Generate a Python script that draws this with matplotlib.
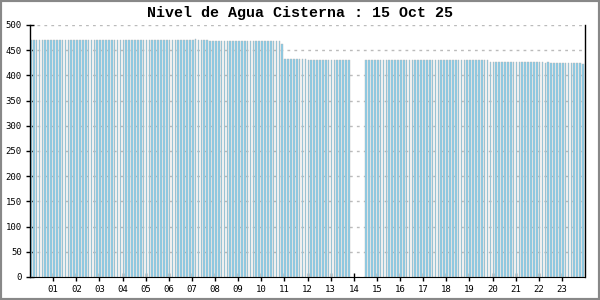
import numpy as np
import matplotlib
matplotlib.use('Agg')
import matplotlib.pyplot as plt

title = 'Nivel de Agua Cisterna : 15 Oct 25'

# readings every 7.5 minutes, one row per hour (nan = no reading)
nan = float('nan')
level_by_hour = [
    [470, 470, 470, 470, 470, 470, 470, 470],  # 00
    [470, 470, 470, 470, 470, 470, 470, 470],  # 01
    [470, 470, 470, 470, 470, 470, 470, 470],  # 02
    [470, 470, 470, 470, 470, 470, 470, 470],  # 03
    [470, 470, 470, 470, 470, 470, 470, 470],  # 04
    [470, 470, 470, 470, 470, 470, 470, 470],  # 05
    [470, 470, 470, 470, 471, 471, 470, 470],  # 06
    [470, 472, 470, 470, 470, 470, 468, 468],  # 07
    [468, 468, 468, 468, 468, 468, 468, 468],  # 08
    [468, 468, 468, 468, 468, 468, 468, 468],  # 09
    [468, 468, 468, 468, 468, 468, 468, 462],  # 10
    [432, 432, 432, 432, 432, 432, 432, 432],  # 11
    [430, 430, 430, 430, 430, 430, 430, 430],  # 12
    [430, 430, 430, 430, 430, 430, 430, nan],  # 13
    [nan, nan, nan, nan, 430, 430, 430, 430],  # 14
    [430, 430, 430, 430, 430, 430, 430, 430],  # 15
    [430, 430, 430, 430, 430, 430, 430, 430],  # 16
    [430, 430, 430, 430, 430, 430, 430, 430],  # 17
    [430, 430, 430, 430, 430, 430, 430, 430],  # 18
    [430, 430, 430, 430, 430, 430, 430, 427],  # 19
    [427, 427, 427, 427, 427, 427, 427, 427],  # 20
    [427, 427, 427, 426, 427, 426, 427, 426],  # 21
    [426, 426, 425, 426, 425, 425, 424, 425],  # 22
    [424, 425, 424, 425, 424, 424, 425, 423],  # 23
]
hour_labels = ['%02d' % h for h in range(1, 24)]

levels = np.array(level_by_hour, dtype=float).ravel()
times = np.arange(len(levels)) / 8.0

fig = plt.figure(figsize=(6, 3), dpi=100)
ax = fig.add_axes([0.05, 0.0767, 0.925, 0.84])

ok = ~np.isnan(levels)
ax.bar(times[ok], levels[ok], width=0.072, align='edge',
       color='#87CEEB', edgecolor='#B4B4B4', linewidth=0.3)

ax.set_xlim(0, 24)
ax.set_ylim(0, 500)
ax.set_yticks(range(0, 501, 50))
ax.set_xticks(range(1, 24))
ax.set_xticklabels(hour_labels)
ax.yaxis.grid(True, color='#BBBBBB', linestyle=(0, (2, 3)), linewidth=1)
ax.set_axisbelow(True)

for lab in ax.get_xticklabels() + ax.get_yticklabels():
    lab.set_fontfamily('DejaVu Sans Mono')
    lab.set_fontsize(6.5)
ax.tick_params(direction='inout', length=6, width=1, colors='black', pad=3)

ax.spines['top'].set_visible(False)
ax.spines['bottom'].set_linestyle((0, (1, 1)))
ax.spines['left'].set_linewidth(1)
ax.spines['right'].set_linewidth(1)

fig.text(0.5, 0.957, title, ha='center', va='center',
         fontfamily='Liberation Mono', fontweight='bold', fontsize=10.8)

# grey frame round the image
fig.patches.append(plt.Rectangle((0, 0), 1, 1, transform=fig.transFigure,
                                 fill=False, edgecolor='#888888', linewidth=3))

fig.savefig('out.png', dpi=100)
